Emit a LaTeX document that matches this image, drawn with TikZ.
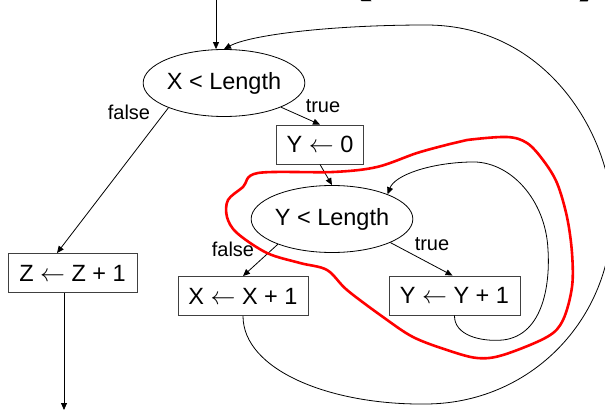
\documentclass[tikz,border=0pt]{standalone}
\usepackage{fontspec}
\setmainfont{Liberation Sans}
\newfontfamily\titlefont{DejaVu Sans}
\usetikzlibrary{shapes.geometric,arrows.meta}
\begin{document}
\begin{tikzpicture}[x=1pt,y=-1pt,
  lbl/.style={font=\fontsize{20}{24}\selectfont, inner sep=0},
  cond/.style={ellipse, draw, line width=0.8pt, inner sep=0, minimum width=159pt, minimum height=67pt, font=\fontsize{23.5}{28}\selectfont},
  stmt/.style={rectangle, draw=black!75, line width=0.9pt, inner sep=0, minimum height=39pt, font=\fontsize{23.5}{28}\selectfont},
  conn/.style={line width=0.8pt},
  arr/.style={conn, -{Triangle[length=7pt,width=6pt]}},
  loopred/.style={red, line width=2.6pt, line join=round},
  titletext/.style={font=\titlefont\bfseries\fontsize{56}{60}\selectfont, inner sep=0, anchor=base west}]
\useasboundingbox (0,0) rectangle (605,417);
\clip (0,0) rectangle (605,417);
% clipped title fragments
\node[titletext] (tq) at (330,-6) {Q};
\node[titletext] (tp) at (575,-5) {)};
% nodes
\node[cond] (e1) at (224,83) {X < Length};
\node[stmt, minimum width=87pt] (y0) at (320,144.5) {Y $\leftarrow$ 0};
\node[cond] (e2) at (332,219) {Y < Length};
\node[stmt, minimum width=129pt] (z) at (72.5,273) {Z $\leftarrow$ Z + 1};
\node[stmt, minimum width=130pt] (xb) at (243,296) {X $\leftarrow$ X + 1};
\node[stmt, minimum width=131pt] (yb) at (454.5,295.5) {Y $\leftarrow$ Y + 1};
% labels
\node[lbl] (f1) at (129,112) {false};
\node[lbl] (t1) at (323,106) {true};
\node[lbl] (f2) at (233,249) {false};
\node[lbl] (t2) at (432,244) {true};
% free ends
\coordinate (in) at (216,0);
\coordinate (out) at (64,410);
% connectors
\draw[arr] (in) -- (in |- e1.north);
\draw[arr] (z.south -| out) -- (out);
\draw[arr] (e1.204) -- ([xshift=-15.5pt]z.north);
\draw[arr] (e1.-23) -- (y0.north);
\draw[arr] (y0.south) -- (e2.north);
\draw[arr] (e2.205) -- (xb.north);
\draw[arr] (e2.-22) -- ([xshift=-2pt]yb.north);
% inner loop back edge
\draw[arr] (yb.south) .. controls (454,335) and (480,342) .. (503,340)
  .. controls (545,335) and (550,280) .. (548,250)
  .. controls (546,200) and (510,160) .. (470,162)
  .. controls (430,163) and (395,175) .. (e2.24);
% outer loop back edge
\draw[arr] (xb.south) .. controls (243,370) and (330,405) .. (425,404)
  .. controls (530,404) and (612,320) .. (612,215)
  .. controls (612,140) and (550,25) .. (426,25)
  .. controls (330,25) and (250,35) .. (e1.north);
% red loop outline
\draw[loopred] plot[smooth cycle, tension=0.55] coordinates {
  (258,173) (333,172) (377,167) (417,153) (450,144) (467,140) (507,137)
  (527,143) (543,160) (557,183) (567,217) (572,253) (572,287) (563,320)
  (547,337) (503,355) (477,358) (447,350) (413,337) (383,317) (347,290)
  (327,270) (300,263) (267,253) (237,233) (227,217) (228,200) (243,187)};
\end{tikzpicture}
\end{document}
